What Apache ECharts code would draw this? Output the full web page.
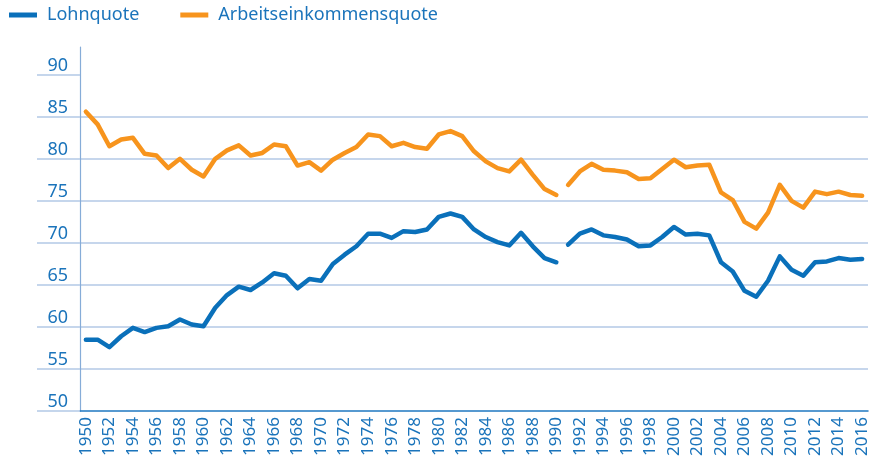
<!DOCTYPE html>
<html>
<head>
<meta charset="utf-8">
<script src="https://cdn.jsdelivr.net/npm/echarts@6/dist/echarts.min.js"></script>
<style>
    html, body { margin: 0; padding: 0; background: #fff; }
    #chart { width: 874px; height: 459px; }
</style>
</head>
<body>
<div id="chart"></div>
<script>
// years 1950..2016; break between West Germany (to 1990) and unified Germany (from 1991)
const years = []
for (let y = 1950; y <= 2016; y++) years.push(String(y))

const yTicks = [50, 55, 60, 65, 70, 75, 80, 85, 90]

// Lohnquote
const lohnWest = [
    58.5, 58.5, 57.6, 58.9, 59.9, 59.4, 59.9, 60.1, 60.9, 60.3,
    60.1, 62.3, 63.8, 64.8, 64.4, 65.3, 66.4, 66.1, 64.6, 65.7,
    65.5, 67.5, 68.6, 69.6, 71.1, 71.1, 70.6, 71.4, 71.3, 71.6,
    73.1, 73.5, 73.1, 71.6, 70.7, 70.1, 69.7, 71.2, 69.6, 68.2,
    67.7
]
const lohnGesamt = [
    69.8, 71.1, 71.6, 70.9, 70.7, 70.4, 69.6, 69.7, 70.7, 71.9,
    71.0, 71.1, 70.9, 67.7, 66.6, 64.3, 63.6, 65.5, 68.4, 66.8,
    66.1, 67.7, 67.8, 68.2, 68.0, 68.1
]

// Arbeitseinkommensquote
const arbWest = [
    85.6, 84.1, 81.5, 82.3, 82.5, 80.6, 80.4, 78.9, 80.0, 78.7,
    77.9, 80.0, 81.0, 81.6, 80.4, 80.7, 81.7, 81.5, 79.2, 79.6,
    78.6, 79.9, 80.7, 81.4, 82.9, 82.7, 81.5, 81.9, 81.4, 81.2,
    82.9, 83.3, 82.7, 80.9, 79.7, 78.9, 78.5, 79.9, 78.1, 76.4,
    75.7
]
const arbGesamt = [
    76.9, 78.5, 79.4, 78.7, 78.6, 78.4, 77.6, 77.7, 78.8, 79.9,
    79.0, 79.2, 79.3, 76.0, 75.1, 72.5, 71.7, 73.6, 76.9, 75.0,
    74.2, 76.1, 75.8, 76.1, 75.7, 75.6
]

const BLUE = '#0a70ba'
const ORANGE = '#f7941d'
const TEXT = '#1b74bb'
const FONT = 'Noto Sans'

const pad = new Array(lohnWest.length).fill(null)

function line(name, color, data) {
    return {
        name: name,
        type: 'line',
        data: data,
        symbol: 'none',
        connectNulls: false,
        lineStyle: { color: color, width: 4.5, cap: 'round', join: 'round' },
        itemStyle: { color: color }
    }
}

const chart = echarts.init(document.getElementById('chart'))

chart.setOption({
    animation: false,
    textStyle: { fontFamily: FONT },
    legend: {
        left: 4,
        top: 1,
        icon: 'rect',
        itemWidth: 28,
        itemHeight: 5,
        itemGap: 41,
        textStyle: { color: TEXT, fontSize: 18, fontFamily: FONT, padding: [0, 0, 0, 5] },
        data: ['Lohnquote', 'Arbeitseinkommensquote']
    },
    grid: { left: 80, right: 6, top: 47, bottom: 47.4 },
    xAxis: {
        type: 'category',
        data: years,
        boundaryGap: true,
        axisLine: { lineStyle: { color: '#1f78c1', width: 1.5 } },
        axisTick: { show: false },
        axisLabel: {
            rotate: 90,
            interval: 1,
            margin: 6,
            color: TEXT,
            fontSize: 17,
            fontFamily: FONT
        },
        splitLine: { show: false }
    },
    yAxis: {
        type: 'value',
        min: 50,
        max: 93.3,
        interval: 5,
        axisLine: { show: true, lineStyle: { color: '#86acd8', width: 1.2 } },
        axisTick: {
            show: true,
            length: 43,
            customValues: yTicks,
            lineStyle: { color: '#b3c9e6', width: 1.5 }
        },
        axisLabel: {
            customValues: yTicks,
            margin: 12,
            verticalAlign: 'bottom',
            color: TEXT,
            fontSize: 18,
            fontFamily: FONT
        },
        splitLine: {
            show: true,
            showMinLine: false,
            showMaxLine: false,
            lineStyle: { color: '#b3c9e6', width: 1.5 }
        }
    },
    series: [
        line('Lohnquote', BLUE, lohnWest),
        line('Lohnquote', BLUE, pad.concat(lohnGesamt)),
        line('Arbeitseinkommensquote', ORANGE, arbWest),
        line('Arbeitseinkommensquote', ORANGE, pad.concat(arbGesamt))
    ]
})
</script>
</body>
</html>
